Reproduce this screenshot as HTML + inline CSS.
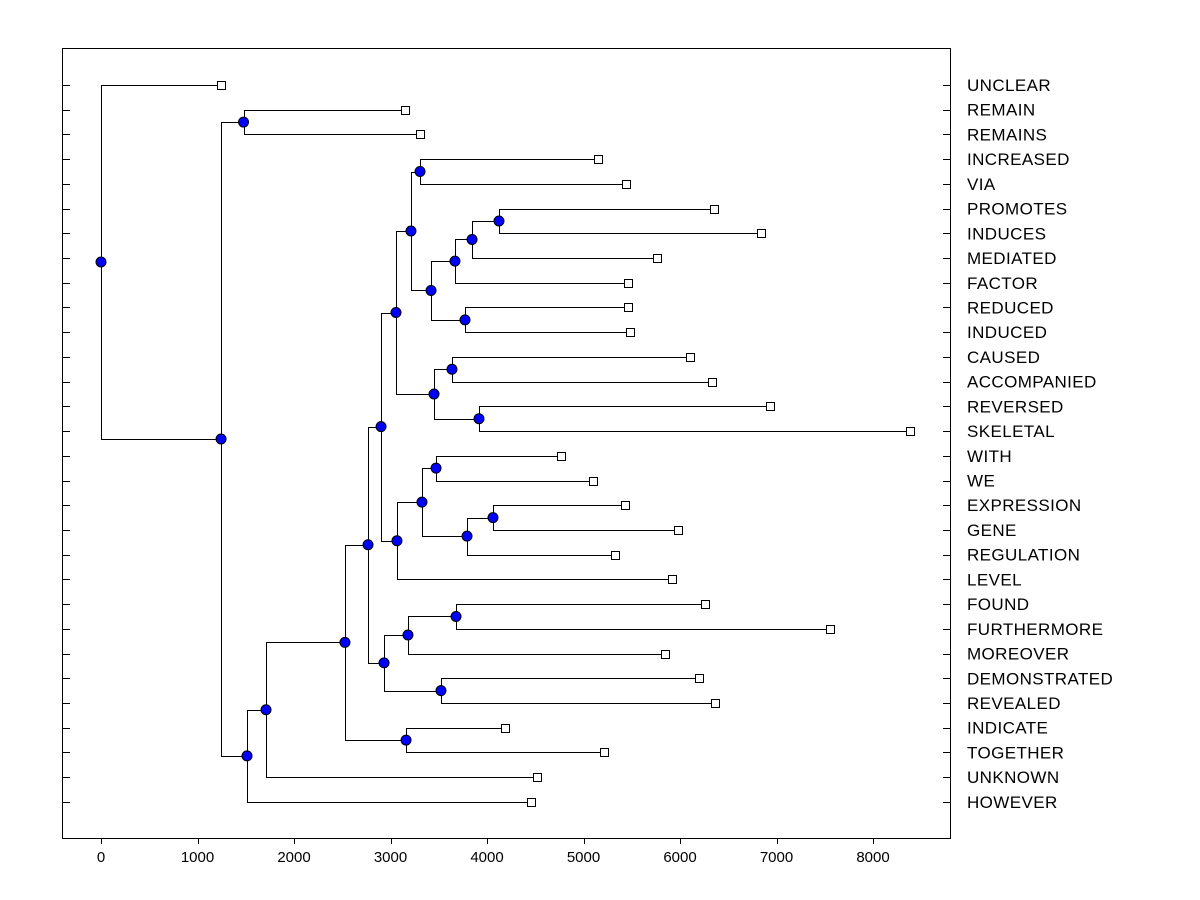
<!DOCTYPE html>
<html><head><meta charset="utf-8"><style>
html,body{margin:0;padding:0;background:#fff;}
svg{display:block;font-family:"Liberation Sans",Arial,sans-serif;}
</style></head><body>
<svg id="chart" width="1200" height="900" viewBox="0 0 1200 900" xmlns="http://www.w3.org/2000/svg">
<rect x="0" y="0" width="1200" height="900" fill="#fff"/>
<rect x="62.5" y="48.5" width="888" height="790" fill="none" stroke="#000" stroke-width="1"/>
<g id="axes"></g>
<g id="links"></g>
<g id="marks"></g>
</svg>
<script>
const leafNames = ["UNCLEAR","REMAIN","REMAINS","INCREASED","VIA","PROMOTES","INDUCES","MEDIATED","FACTOR","REDUCED","INDUCED","CAUSED","ACCOMPANIED","REVERSED","SKELETAL","WITH","WE","EXPRESSION","GENE","REGULATION","LEVEL","FOUND","FURTHERMORE","MOREOVER","DEMONSTRATED","REVEALED","INDICATE","TOGETHER","UNKNOWN","HOWEVER"];
const leafHeights = [1244,3150,3306,5150,5440,6352,6839,5762,5461,5461,5482,6104,6332,6933,8383,4767,5098,5430,5979,5326,5917,6259,7554,5845,6197,6363,4187,5212,4518,4456];
const nodeHeights = [4124,3845,3668,3772,3420,3306,3212,3637,3917,3451,3057,3472,4062,3793,3326,3067,2902,3679,3181,3523,2933,2767,3161,2528,1710,1513,1477,1244,0];
const nodeLeft = [5,30,31,9,32,3,35,11,13,37,36,15,17,42,41,44,40,21,47,24,48,46,26,51,53,54,1,56,0];
const nodeRight = [6,7,8,10,33,4,34,12,14,38,39,16,18,19,43,20,45,22,23,25,49,50,27,52,28,29,2,55,57];
const xTicks = [0,1000,2000,3000,4000,5000,6000,7000,8000];

const NS="http://www.w3.org/2000/svg";
const xs = v => 101 + v*0.0965;
const ys = i => 85 + i*24.72;
function mk(tag, attrs, parent){const e=document.createElementNS(NS,tag);for(const k in attrs)e.setAttribute(k,attrs[k]);parent.appendChild(e);return e;}
const axes=document.getElementById('axes'), links=document.getElementById('links'), marks=document.getElementById('marks');

xTicks.forEach(t=>{
  const x=Math.round(xs(t))+0.5;
  const l=mk('line',{x1:x,x2:x,y1:838,y2:844,stroke:'#000'},axes);
  
  
  const tx=mk('text',{x:xs(t),y:862,'text-anchor':'middle','font-size':15,fill:'#000'},axes);
  tx.textContent=t;
  
  
});
leafNames.forEach((n,i)=>{
  const y=Math.round(ys(i))+0.5;
  const a=mk('line',{x1:62,x2:70,y1:y,y2:y,stroke:'#000'},axes);
  
  
  const b=mk('line',{x1:943,x2:951,y1:y,y2:y,stroke:'#000'},axes);
  
  
  const t=mk('text',{x:967,y:ys(i)+6,'font-size':17,'letter-spacing':0.4,fill:'#000'},axes);
  t.textContent=n;
  
  
});

const N=leafNames.length;
const pos={};
leafNames.forEach((n,i)=>{pos[i]={x:xs(leafHeights[i]),y:ys(i)};});
nodeHeights.forEach((h,k)=>{
  const id=N+k, a=pos[nodeLeft[k]], b=pos[nodeRight[k]];
  pos[id]={x:xs(h),y:(a.y+b.y)/2};
});
nodeHeights.forEach((h,k)=>{
  const p=pos[N+k], a=pos[nodeLeft[k]], b=pos[nodeRight[k]];
  const px=Math.round(p.x)+0.5;
  const d=`M${Math.round(a.x)+0.5},${Math.round(a.y)+0.5}H${px}V${Math.round(b.y)+0.5}H${Math.round(b.x)+0.5}`;
  const e=mk('path',{d:d,fill:'none',stroke:'#000','stroke-width':1},links);
  
  
});
leafNames.forEach((n,i)=>{
  const p=pos[i];
  const r=mk('rect',{x:Math.round(p.x)-3.5,y:Math.round(p.y)-3.5,width:8,height:8,fill:'#fff',stroke:'#000'},marks);
  
  
});
nodeHeights.forEach((h,k)=>{
  const p=pos[N+k];
  const c=mk('circle',{cx:p.x,cy:p.y,r:5,fill:'#0000ff',stroke:'#000'},marks);
  
  
});
</script>
</body></html>
